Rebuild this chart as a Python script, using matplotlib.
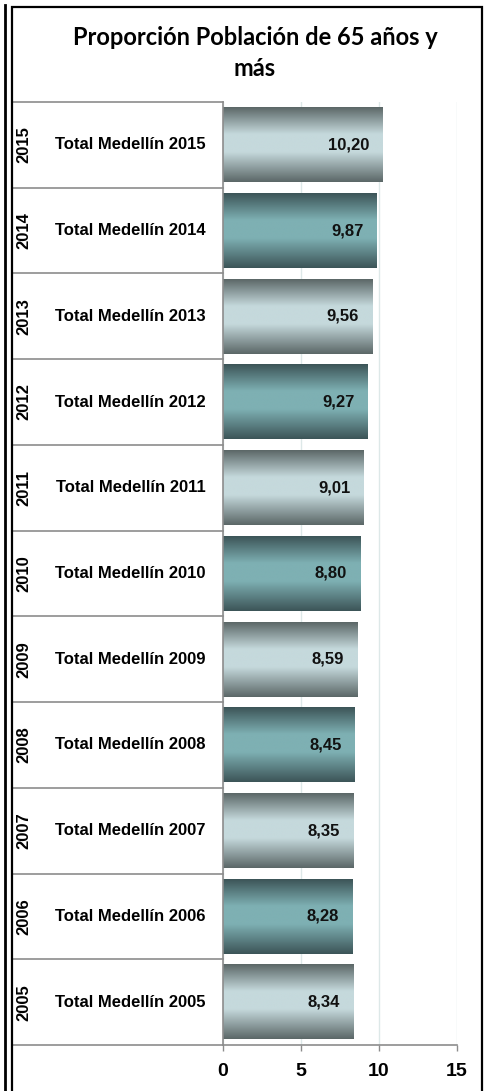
import numpy as np
import matplotlib
matplotlib.use("Agg")
import matplotlib.pyplot as plt
import matplotlib.transforms as mtransforms
from matplotlib.colors import LinearSegmentedColormap
from matplotlib.patches import Rectangle
from matplotlib.lines import Line2D

years = ["2005", "2006", "2007", "2008", "2009", "2010",
         "2011", "2012", "2013", "2014", "2015"]
labels = ["Total Medellín " + y for y in years]
values = [8.34, 8.28, 8.35, 8.45, 8.59, 8.80, 9.01, 9.27, 9.56, 9.87, 10.20]
value_text = ["8,34", "8,28", "8,35", "8,45", "8,59", "8,80",
              "9,01", "9,27", "9,56", "9,87", "10,20"]
xticks = [0, 5, 10, 15]
title_lines = ["Proporción Población de 65 años y", "más"]

W, H = 487, 1091
fig = plt.figure(figsize=(W / 100, H / 100), dpi=100)
fig.patch.set_facecolor("white")

# plot area in pixels: x 223..457, y 102..1045
ax = fig.add_axes([223 / W, (H - 1045) / H, (457 - 223) / W, (1045 - 102) / H])

gray_cm = LinearSegmentedColormap.from_list(
    "gray", [(0, "#5b6767"), (0.36, "#c5d9dc"), (0.6, "#c5d9dc"), (1, "#5b6767")])
teal_cm = LinearSegmentedColormap.from_list(
    "teal", [(0, "#3c5457"), (0.36, "#7eb0b3"), (0.6, "#7eb0b3"), (1, "#3c5457")])

ypos = np.arange(len(values))
bars = ax.barh(ypos, values, height=0.87, color="none", edgecolor="none", zorder=2)

grad = np.linspace(0, 1, 256).reshape(-1, 1)
for i, b in enumerate(bars):
    cm = gray_cm if i % 2 == 0 else teal_cm
    x0, y0 = b.get_x(), b.get_y()
    ax.imshow(grad, cmap=cm, aspect="auto", zorder=2,
              extent=[x0, x0 + b.get_width(), y0, y0 + b.get_height()],
              origin="upper", interpolation="bilinear")

ax.set_xlim(0, 15)
ax.set_ylim(-0.5, len(values) - 0.5)

for b, t in zip(bars, value_text):
    ax.annotate(t, xy=(b.get_width(), b.get_y() + b.get_height() / 2),
                xytext=(-9.4, 0), textcoords="offset points",
                ha="right", va="center", fontsize=12, fontweight="bold",
                family="Liberation Sans", color="#111111", zorder=3)

ax.set_xticks(xticks)
ax.set_xticklabels([str(t) for t in xticks], fontsize=14, fontweight="bold",
                   family="Liberation Sans")
ax.tick_params(axis="x", length=4, width=1, color="#8c8c8c", pad=9)
ax.set_yticks([])
ax.grid(axis="x", color="#dde8e8", lw=1, zorder=0)
ax.set_axisbelow(True)
for s in ["top", "right"]:
    ax.spines[s].set_visible(False)
for s in ["left", "bottom"]:
    ax.spines[s].set_color("#8c8c8c")
    ax.spines[s].set_linewidth(1.2)

# category table on the left
tr = mtransforms.blended_transform_factory(ax.transAxes, ax.transData)
box_left = (13 - 223) / (457 - 223)
for i in range(len(values) + 1):
    ax.add_line(Line2D([box_left, 0], [i - 0.5, i - 0.5], transform=tr,
                       color="#8c8c8c", lw=1.2, clip_on=False))
for i, (yr, lab) in enumerate(zip(years, labels)):
    ax.text((23.5 - 223) / 234, i, yr, transform=tr, rotation=90,
            ha="center", va="center", fontsize=12, fontweight="bold",
            family="Liberation Sans")
    ax.text((130.5 - 223) / 234, i, lab, transform=tr,
            ha="center", va="center", fontsize=12, fontweight="bold",
            family="Liberation Sans")

for line, ybase in zip(title_lines, [45, 76]):
    fig.text(255 / W, 1 - ybase / H, line, ha="center", va="baseline",
             fontsize=17, fontweight="bold", family="Lato")

# outer frames
fig.add_artist(Rectangle((12 / W, -0.05), (482 - 12) / W, 1.05 - 7 / H,
                         transform=fig.transFigure, fill=False,
                         edgecolor="black", lw=1.6))
fig.add_artist(Line2D([5 / W, 5 / W], [0, 1 - 5 / H], transform=fig.transFigure,
                      color="black", lw=2))

fig.savefig("out.png", dpi=100)
